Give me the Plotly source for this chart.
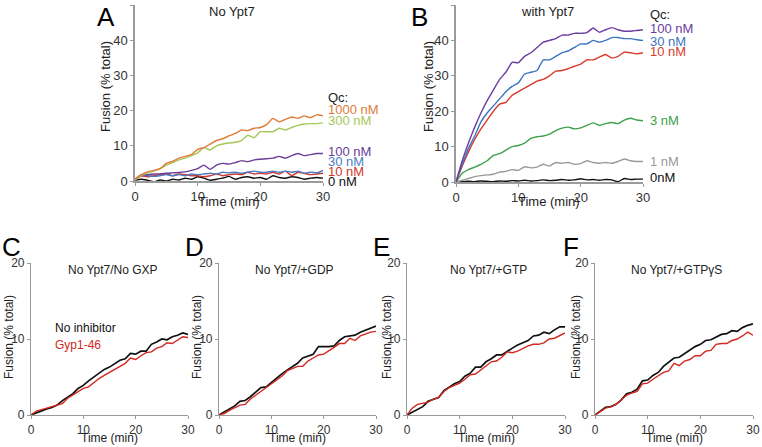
import plotly.graph_objects as go

W, H = 762, 447
time = list(range(31))

# Panel A: No Ypt7
a_1000 = [0.5,1.8,2.6,3,3.5,5,5.6,6.5,7,7.5,9,9.5,10.5,11.5,12,12.8,13.5,14.5,14.3,15,15.2,16,17.8,16.8,17.5,18.2,17.8,18.5,18,18.8,18.5]
a_300 = [0.3,1.5,2.3,2.8,3.5,4.5,5.2,6,6.5,7.2,8,9.5,8.8,10,10.5,10.8,11,11.5,13,12.3,14,14,14,15,14.5,15.2,15.8,16.2,16.3,16.3,16.5]
a_100 = [0.5,1.5,1.8,2,2,2.2,2.3,2.4,2.6,3,3.5,4.5,3.3,4.5,5,4.8,5.2,5.8,5.5,6,6.2,6.3,6.5,7,6.5,7.2,7.8,7.2,7.5,7.8,7.8]
a_30 = [0.5,1.8,1.5,1.3,1.5,1.8,1.5,1.8,1.5,2,1.8,2,2.2,2,2.5,2.3,2.5,2.2,2.5,2.8,2.5,2.5,2.8,2.5,2.8,2.5,2.8,2.2,2.5,2.3,3]
a_10 = [0.5,1.5,1.2,1.5,1.8,2,1.5,2,1.8,1.5,1.5,1.2,1.5,2,1.5,1.8,2,1.8,2.5,2,2.2,2,2.5,2,2.8,1.5,2.5,2.2,1.8,2,2.2]
a_0 = [0.3,0.5,0.2,-0.2,0.3,0,0.5,0.3,0.8,0.5,1.2,0.8,0.2,0.5,0.8,1.3,0.5,1,1.2,0.8,1,0.5,1.5,1,0.8,1.2,1,0.5,0.8,1,0.8]

# Panel B: with Ypt7
b_100 = [0,6,11,15.5,19.5,23,26,29,31,33.8,33.7,35.5,36.5,38,39.5,40,40.5,41.5,41.5,42,42,42.2,43.5,42.3,43,43.6,43,42.6,42.6,42.8,43]
b_30 = [0,5,9.5,13,17,19.5,21.5,23.5,25.5,27,28,30.5,31,31.5,34.5,34.5,35.5,36.5,37,38,39,39,40,39.5,40,40.8,40.8,40.5,40.5,40.2,40]
b_10 = [0,4.5,8.5,12,15,17.5,20,22,22.5,24.5,25.5,26.5,27.5,28.5,29,30,31.3,31.5,32,32.7,33.3,34.5,34.5,35.3,36,35,35.5,36.7,36.5,36.2,36.5]
b_3 = [0,2.5,3.5,4.2,5,6,7.5,8,9,10,10.3,11,12.3,12.8,13,13.5,14.5,15.2,15.5,15,15.3,16,16.7,16,16.5,16.8,16.5,17.5,18,17.5,17.3]
b_1 = [0,0.5,1,1.5,1.8,2,2.2,2.8,3,3.5,3.3,4.3,4,4.2,5,4.5,5.5,5.3,5.5,5,5.2,6,5.5,5.3,5.5,5.3,5.8,6.5,6,5.8,5.8]
b_0 = [0,0.1,0.2,0.1,0.3,0.2,0.1,0.3,0.2,0.4,0.3,0.5,0.3,0.4,0.6,0.4,0.5,0.7,0.5,0.6,0.9,0.6,0.7,0.5,0.7,0.6,0.1,1,0.7,0.8,0.8]

# Panels C-F: no inhibitor (black) vs Gyp1-46 (red)
c_none = [0,0.3,0.6,0.8,1,1.3,1.9,2.3,2.8,3.5,3.9,4.5,5,5.6,6,6.3,6.8,7.2,7.4,8.1,8,8.4,8.4,9.3,9.6,10,9.9,10.3,10.5,10.8,10.6]
c_gyp = [0,0.5,0.7,0.9,1.1,1.3,1.5,2.2,2.6,3,3.5,3.7,4.3,4.8,5.2,5.6,6,6.4,6.8,7.5,7.3,7.8,8.2,8.3,8.8,9,9.5,9.4,9.9,10.3,10.2]
d_none = [0,0.4,0.8,1.2,1.8,1.9,2.4,3,3.6,3.7,4.3,4.9,5.4,5.9,6.4,6.8,7.5,7.7,8,9,9,9,9.1,9.8,10.3,10.4,10.5,10.9,11.2,11.5,11.7]
d_gyp = [0,0.2,0.6,1,1.3,1.4,2.1,2.6,3.1,3.6,4.2,4.6,5.1,5.8,6.1,6.4,6.4,7.1,7.5,7.9,8,8.4,8.9,9.4,9.4,10.1,9.8,10.4,10.7,10.9,11]
e_none = [0,0.4,0.8,1.1,1.8,2.1,2.3,3.2,3.7,4.1,4.4,5.1,5.5,6.3,6.3,7,7.4,7.9,7.9,8.4,8.8,9.2,9.5,9.8,10.4,10.5,10.9,10.7,11.2,11.6,11.6]
e_gyp = [0,0.9,1.4,1.6,1.7,2.1,2.3,3.1,3.6,3.9,4.2,4.7,5.3,5.4,5.9,6.4,7,7.1,7.6,8.3,8.2,8.4,8.8,9.1,9.3,9.3,9.5,10,10.1,10.5,10.8]
f_none = [0,0.5,1,1.1,1.4,2,2.8,3,3.4,4.5,4.6,5.2,5.6,6.4,6.9,7.5,7.6,8.1,8.5,9,9.3,9.8,9.9,10.2,10.6,10.7,11.1,11,11.5,11.8,12]
f_gyp = [0,0.5,0.9,1.1,1.4,2,2.6,2.9,3.1,4.1,4.2,4.7,5.2,5.6,5.8,6.8,6.5,7.1,7.3,7.8,7.8,8.4,8.5,9.3,9.4,9.4,9.8,10,10.4,10.9,10.5]

FONT = "Liberation Sans, Arial, sans-serif"
AX = "#9a9a9a"

fig = go.Figure()

def px_x(p):
    return p / W

def px_y(p):
    return 1 - p / H

panels = {
    "A": (135, 323, 5, 181, 50, [0, 10, 20, 30, 40, 50]),
    "B": (456, 643, 5, 182, 50, [0, 10, 20, 30, 40, 50]),
    "C": (31, 188, 263, 415, 20, [0, 10, 20]),
    "D": (219, 376, 263, 415, 20, [0, 10, 20]),
    "E": (407, 565, 263, 415, 20, [0, 10, 20]),
    "F": (595, 753, 263, 415, 20, [0, 10, 20]),
}

layout = {}
axis_ids = {}
for i, (name, (x0, x1, yt, yb, ymax, yt_vals)) in enumerate(panels.items()):
    n = "" if i == 0 else str(i + 1)
    axis_ids[name] = ("x" + n, "y" + n)
    big = name in ("A", "B")
    fs = 13 if big else 12
    lw = 1.6 if big else 1.1
    layout["xaxis" + n] = dict(
        domain=[px_x(x0), px_x(x1)], range=[0, 30], anchor="y" + n,
        tickvals=[0, 10, 20, 30], showgrid=False, zeroline=False,
        showline=True, linecolor=AX, linewidth=lw, ticks="outside",
        ticklen=3, tickcolor=AX, tickwidth=1, automargin=False,
        tickfont=dict(size=fs, color="#333", family=FONT),
    )
    layout["yaxis" + n] = dict(
        domain=[px_y(yb), px_y(yt)], range=[0, ymax], anchor="x" + n,
        tickvals=yt_vals, showgrid=False, zeroline=False,
        showline=True, linecolor=AX, linewidth=lw, ticks="outside",
        ticklen=3, tickcolor=AX, tickwidth=1, automargin=False,
        tickfont=dict(size=fs, color="#333", family=FONT),
    )

def add(panel, y, color, width=1.4):
    xa, ya = axis_ids[panel]
    fig.add_trace(go.Scatter(x=time, y=y, mode="lines", xaxis=xa, yaxis=ya,
                             line=dict(color=color, width=width, shape="spline", smoothing=0.4),
                             showlegend=False, hoverinfo="skip"))

A_cols = ["#e07b39", "#a6c85a", "#6a3d9a", "#4a7cc4", "#d1372e", "#111111"]
add("A", a_0, A_cols[5])
add("A", a_10, A_cols[4])
add("A", a_30, A_cols[3])
add("A", a_100, A_cols[2])
add("A", a_300, A_cols[1])
add("A", a_1000, A_cols[0])

B_cols = ["#6a3da0", "#3d74c0", "#d83a2b", "#3da04a", "#9a9a9a", "#111111"]
add("B", b_0, B_cols[5])
add("B", b_1, B_cols[4])
add("B", b_3, B_cols[3])
add("B", b_10, B_cols[2])
add("B", b_30, B_cols[1])
add("B", b_100, B_cols[0])

RED = "#d1281f"
for p, k, g in [("C", c_none, c_gyp), ("D", d_none, d_gyp), ("E", e_none, e_gyp), ("F", f_none, f_gyp)]:
    xa, ya = axis_ids[p]
    fig.add_trace(go.Scatter(x=time, y=k, mode="lines", xaxis=xa, yaxis=ya,
                             line=dict(color="#111111", width=1.7), showlegend=False, hoverinfo="skip"))
    fig.add_trace(go.Scatter(x=time, y=g, mode="lines", xaxis=xa, yaxis=ya,
                             line=dict(color=RED, width=1.4), showlegend=False, hoverinfo="skip"))

ann = []
def text(x, y, s, size=12, color="#222", xanchor="center", yanchor="middle", angle=0):
    ann.append(dict(x=px_x(x), y=px_y(y), xref="paper", yref="paper", text=s,
                    showarrow=False, xanchor=xanchor, yanchor=yanchor, textangle=angle,
                    font=dict(size=size, color=color, family=FONT)))

# Panel letters
text(106, 0, "A", 26, "#000", yanchor="top")
text(419, 0, "B", 26, "#000", yanchor="top")
text(0, 247, "C", 26, "#000", xanchor="left")
text(194, 247, "D", 26, "#000")
text(381, 247, "E", 26, "#000")
text(571, 247, "F", 26, "#000")

# Titles
text(232, 12, "No Ypt7", 13)
text(547, 12, "with Ypt7", 13)
text(113, 270, "No Ypt7/No GXP", 12)
text(294, 270, "No Ypt7/+GDP", 12)
text(488, 270, "No Ypt7/+GTP", 12)
text(676, 270, "No Ypt7/+GTPγS", 12)

# Axis titles
text(105, 87, "Fusion (% total)", 13, angle=-90)
text(428, 87, "Fusion (% total)", 13, angle=-90)
text(0, 337, "Fusion (% total)", 12, xanchor="left", angle=-90)
for x in (197, 387, 576):
    text(x, 337, "Fusion (% total)", 12, angle=-90)
text(229, 202, "Time (min)", 13)
text(549, 202, "Time (min)", 13)
for x0, x1 in [(31, 188), (219, 376), (407, 565), (595, 753)]:
    text((x0 + x1) / 2, 438, "Time (min)", 12)

# Series labels A
text(326, 98, "Qc:", 13, "#222", xanchor="left")
for s, y, c in [("1000 nM", 109, A_cols[0]), ("300 nM", 121, A_cols[1]), ("100 nM", 151, A_cols[2]),
                ("30 nM", 161, A_cols[3]), ("10 nM", 171, A_cols[4]), ("0 nM", 182, A_cols[5])]:
    text(326, y, s, 13, c, xanchor="left")
# Series labels B
text(648, 14, "Qc:", 13, "#222", xanchor="left")
for s, y, c in [("100 nM", 29, B_cols[0]), ("30 nM", 41, B_cols[1]), ("10 nM", 52, B_cols[2]),
                ("3 nM", 121, B_cols[3]), ("1 nM", 161, B_cols[4]), ("0nM", 177, B_cols[5])]:
    text(648, y, s, 13, c, xanchor="left")

# Legend in C
text(53, 328, "No inhibitor", 12, "#111", xanchor="left")
text(53, 345, "Gyp1-46", 12, RED, xanchor="left")

fig.update_layout(**layout)
fig.update_layout(width=W, height=H, margin=dict(l=0, r=0, t=0, b=0, autoexpand=False),
                  paper_bgcolor="white", plot_bgcolor="white",
                  font=dict(family=FONT), annotations=ann)
fig.write_html("out.html", config={"displayModeBar": False, "staticPlot": True},
               post_script="document.body.style.margin='0';document.body.style.overflow='hidden';")
